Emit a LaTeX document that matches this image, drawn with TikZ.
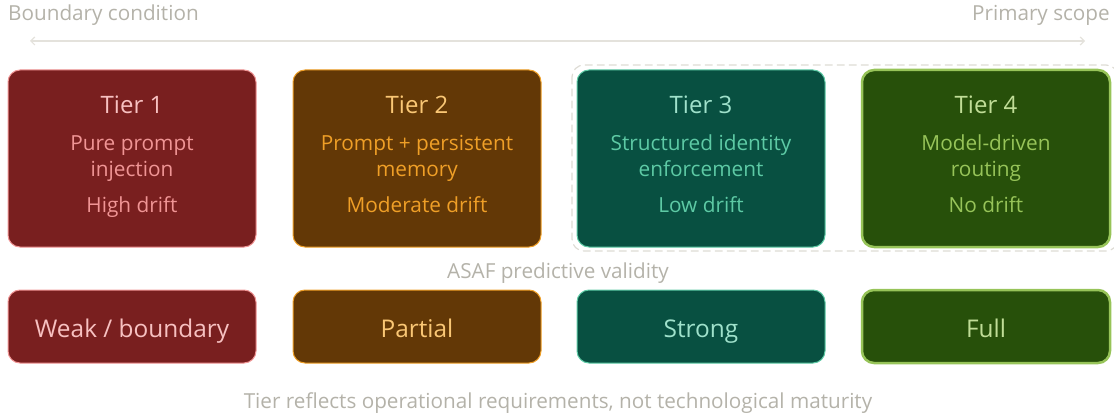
\documentclass[tikz,border=0pt]{standalone}
\usepackage{fontspec}
\setmainfont{Open Sans}
\usetikzlibrary{arrows.meta}

\definecolor{notegray}{HTML}{B4B2A9}
\definecolor{rulegray}{HTML}{E4E2DC}
\definecolor{dashgray}{HTML}{DDDBD4}
\definecolor{redfill}{HTML}{791F1F}
\definecolor{redline}{HTML}{F09595}
\definecolor{redhead}{HTML}{F7C1C1}
\definecolor{amberfill}{HTML}{633806}
\definecolor{amberline}{HTML}{EF9F27}
\definecolor{amberhead}{HTML}{FAC775}
\definecolor{tealfill}{HTML}{085041}
\definecolor{tealline}{HTML}{5DCAA5}
\definecolor{tealhead}{HTML}{9FE1CB}
\definecolor{greenfill}{HTML}{27500A}
\definecolor{greenline}{HTML}{97C459}
\definecolor{greenhead}{HTML}{C0DD97}

\tikzset{
  tierbox/.style={draw, rounded corners=12pt, minimum width=248pt, minimum height=177pt, inner sep=0pt, line width=1pt},
  scorebox/.style={draw, rounded corners=12pt, minimum width=248pt, minimum height=73pt, inner sep=0pt, line width=1pt},
  tiertitle/.style={font=\fontsize{24}{28}\selectfont, inner sep=0pt, anchor=base},
  tierbody/.style={font=\fontsize{20.8}{26}\selectfont, align=center, inner sep=0pt, anchor=base},
  scoretext/.style={font=\fontsize{24.4}{28}\selectfont, inner sep=0pt, anchor=base},
  note/.style={text=notegray, font=\fontsize{20.7}{24}\selectfont, inner sep=0pt, anchor=base},
}

\begin{document}
\begin{tikzpicture}[x=1pt,y=-1pt,line cap=round,line join=round]
	\useasboundingbox (0,0) rectangle (1114,417);
	% scale arrow
	\node[note, anchor=base west] (bound) at (8,21) {Boundary condition};
	\node[note, anchor=base east] (prim) at (1110,21) {Primary scope};
	\coordinate (arrL) at (30,41);
	\coordinate (arrR) at (1085,41);
	\draw[rulegray, line width=1.2pt, {Straight Barb[length=4pt,width=8pt]}-{Straight Barb[length=4pt,width=8pt]}] (arrL) -- (arrR);
	% primary scope frame
	\draw[dashgray, line width=1.2pt, dash pattern=on 7pt off 5pt, rounded corners=12pt] (572,65) rectangle (1118,251);
	% tier boxes
	\node[tierbox, fill=redfill, draw=redline] (t1) at (132,158.5) {};
	\node[tierbox, fill=amberfill, draw=amberline] (t2) at (417,158.5) {};
	\node[tierbox, fill=tealfill, draw=tealline] (t3) at (701,158.5) {};
	\node[tierbox, fill=greenfill, draw=greenline, line width=2.5pt] (t4) at (986,158.5) {};
	% (two-line nodes sit on their last baseline)
	\node[tiertitle, text=redhead] (t1h) at (132,114) {Tier 1};
	\node[tierbody, text=redline] (t1b) at (132,177) {Pure prompt\\injection};
	\node[tierbody, text=redline] (t1d) at (132,212) {High drift};
	\node[tiertitle, text=amberhead] (t2h) at (417,114) {Tier 2};
	\node[tierbody, text=amberline] (t2b) at (417,177) {Prompt + persistent\\memory};
	\node[tierbody, text=amberline] (t2d) at (417,212) {Moderate drift};
	\node[tiertitle, text=tealhead] (t3h) at (701,114) {Tier 3};
	\node[tierbody, text=tealline] (t3b) at (701,177) {Structured identity\\enforcement};
	\node[tierbody, text=tealline] (t3d) at (701,212) {Low drift};
	\node[tiertitle, text=greenhead] (t4h) at (986,114) {Tier 4};
	\node[tierbody, text=greenline] (t4b) at (986,177) {Model-driven\\routing};
	\node[tierbody, text=greenline] (t4d) at (986,212) {No drift};
	% validity row
	\node[note] (asaf) at (558,278) {ASAF predictive validity};
	\node[scorebox, fill=redfill, draw=redline] (s1) at (132,326.5) {};
	\node[scorebox, fill=amberfill, draw=amberline] (s2) at (417,326.5) {};
	\node[scorebox, fill=tealfill, draw=tealline] (s3) at (701,326.5) {};
	\node[scorebox, fill=greenfill, draw=greenline, line width=2.5pt] (s4) at (986,326.5) {};
	\node[scoretext, text=redhead] (s1t) at (132,337) {Weak / boundary};
	\node[scoretext, text=amberhead] (s2t) at (417,337) {Partial};
	\node[scoretext, text=tealhead] (s3t) at (701,337) {Strong};
	\node[scoretext, text=greenhead] (s4t) at (986,337) {Full};
	\node[note] (foot) at (558,408) {Tier reflects operational requirements, not technological maturity};
\end{tikzpicture}
\end{document}
